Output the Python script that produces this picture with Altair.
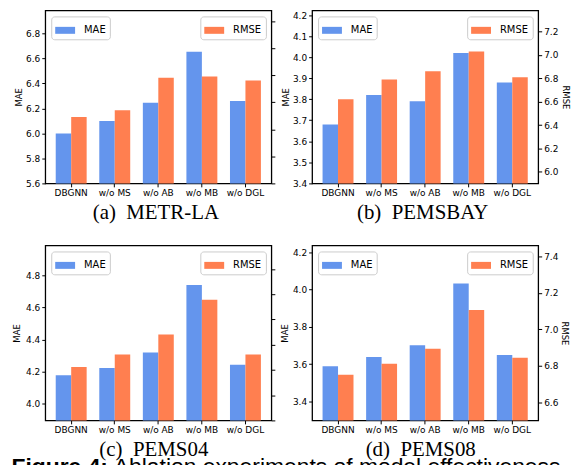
import altair as alt
import pandas as pd

categories = ["DBGNN", "w/o MS", "w/o AB", "w/o MB", "w/o DGL"]
series = ["MAE", "RMSE"]
colors = ["#6495ED", "#FF7F50"]

# (a) METR-LA
a_mae = [6.00, 6.10, 6.245, 6.655, 6.26]
a_rmse = [11.09, 11.14, 11.38, 11.39, 11.36]
a_mae_ticks = [5.6, 5.8, 6.0, 6.2, 6.4, 6.6, 6.8]
a_rmse_ticks = [10.6, 10.8, 11.0, 11.2, 11.4, 11.6, 11.8]
a_mae_domain = [5.6, 6.985]
a_rmse_domain = [10.6, 11.878]

# (b) PEMSBAY
b_mae = [3.68, 3.82, 3.79, 4.02, 3.88]
b_rmse = [6.62, 6.79, 6.86, 7.03, 6.81]
b_mae_ticks = [3.4, 3.5, 3.6, 3.7, 3.8, 3.9, 4.0, 4.1, 4.2]
b_rmse_ticks = [6.0, 6.2, 6.4, 6.6, 6.8, 7.0, 7.2]
b_mae_domain = [3.4, 4.222]
b_rmse_domain = [5.902, 7.38]

# (c) PEMS04
c_mae = [4.178, 4.223, 4.32, 4.74, 4.243]
c_rmse = [7.624, 7.723, 7.88, 8.157, 7.723]
c_mae_ticks = [4.0, 4.2, 4.4, 4.6, 4.8]
c_rmse_ticks = [7.2, 7.4, 7.6, 7.8, 8.0, 8.2, 8.4]
c_mae_domain = [3.897, 4.985]
c_rmse_domain = [7.2, 8.586]

# (d) PEMS08
d_mae = [3.589, 3.639, 3.702, 4.032, 3.65]
d_rmse = [6.751, 6.811, 6.893, 7.106, 6.844]
d_mae_ticks = [3.4, 3.6, 3.8, 4.0, 4.2]
d_rmse_ticks = [6.6, 6.8, 7.0, 7.2, 7.4]
d_mae_domain = [3.299, 4.236]
d_rmse_domain = [6.5, 7.46]

captions = ["(a)\u00a0 METR-LA", "(b)\u00a0 PEMSBAY", "(c)\u00a0 PEMS04", "(d)\u00a0 PEMS08"]
fig_caption = ["Figure 4:", "Ablation experiments of model effectiveness"]

SYMBOL = "M-1,-0.35H1V0.35H-1Z"


def legend(orient):
    return alt.Legend(
        orient=orient, title=None, offset=6, padding=4,
        fillColor="white", strokeColor="#cccccc", cornerRadius=3,
        symbolType=SYMBOL, symbolSize=400, symbolStrokeWidth=0,
        labelFont="DejaVu Sans", labelFontSize=10, labelOffset=9,
        labelColor="black",
    )


def panel(caption, mae, rmse, mae_dom, mae_ticks, rmse_dom, rmse_ticks,
          width, height, left_tp, right_tp, left_title, right_labels,
          right_title, cap_dx=-4, extra=None):
    df_mae = pd.DataFrame({"cat": categories, "series": "MAE", "value": mae})
    df_rmse = pd.DataFrame({"cat": categories, "series": "RMSE", "value": rmse})

    xscale = alt.Scale(paddingInner=0.29, paddingOuter=0.24)
    xaxis = alt.Axis(
        title=caption, labelAngle=0, labelFontSize=9, labelPadding=2,
        tickSize=3.5, tickColor="black", domain=False,
        titleFont="Liberation Serif", titleFontSize=21,
        titleFontWeight="normal", titleY=35, titleX=width / 2 + cap_dx,
        titleBaseline="alphabetic", labelColor="black", titleColor="black",
    )
    xoff = alt.XOffset("series:N", scale=alt.Scale(domain=series, paddingInner=0, paddingOuter=0))

    left_kw = dict(
        orient="left", values=mae_ticks, format=".1f", grid=False, domain=False,
        tickSize=3.5, tickColor="black", labelFontSize=9, labelPadding=2,
        titleFontSize=8.5, titleFontWeight="normal", titlePadding=left_tp,
        labelColor="black", titleColor="black", title=left_title,
    )
    right_kw = dict(
        orient="right", values=rmse_ticks, format=".1f", grid=False, domain=False,
        tickSize=3.5, tickColor="black", labelFontSize=9, labelPadding=2,
        labels=right_labels, titleFontSize=8.5, titleFontWeight="normal",
        titlePadding=right_tp, labelColor="black", titleColor="black",
        title=right_title,
    )

    mae_bars = alt.Chart(df_mae).mark_bar(clip=True).encode(
        x=alt.X("cat:N", sort=categories, scale=xscale, axis=xaxis),
        xOffset=xoff,
        y=alt.Y("value:Q", scale=alt.Scale(domain=mae_dom, zero=False, nice=False),
                axis=alt.Axis(**left_kw)),
        color=alt.Color("series:N", scale=alt.Scale(domain=["MAE"], range=[colors[0]]),
                        legend=legend("top-left")),
    )
    rmse_bars = alt.Chart(df_rmse).mark_bar(clip=True).encode(
        x=alt.X("cat:N", sort=categories, scale=xscale),
        xOffset=xoff,
        y=alt.Y("value:Q", scale=alt.Scale(domain=rmse_dom, zero=False, nice=False),
                axis=alt.Axis(**right_kw)),
        color=alt.Color("series:N", scale=alt.Scale(domain=["RMSE"], range=[colors[1]]),
                        legend=legend("top-right")),
    )
    layers = [mae_bars, rmse_bars]
    if extra:
        layers += extra
    return alt.layer(*layers).resolve_scale(y="independent", color="independent").properties(
        width=width, height=height
    )


fig_df1 = pd.DataFrame({"t": [fig_caption[0]]})
fig_df2 = pd.DataFrame({"t": [fig_caption[1]]})
fig_text = [
    alt.Chart(fig_df1).mark_text(align="left", baseline="alphabetic", font="Liberation Sans",
                                 fontSize=23, fontWeight="bold", color="black").encode(
        text="t:N", x=alt.value(-34), y=alt.value(229.5)),
    alt.Chart(fig_df2).mark_text(align="left", baseline="alphabetic", font="Liberation Sans",
                                 fontSize=23, color="black").encode(
        text="t:N", x=alt.value(69), y=alt.value(229.5)),
]

W = 227.5
H1 = 174
H2 = 176
pa = panel(captions[0], a_mae, a_rmse, a_mae_domain, a_mae_ticks, a_rmse_domain, a_rmse_ticks,
           W, H1, 2, 3, "MAE", False, "", cap_dx=-3)
pb = panel(captions[1], b_mae, b_rmse, b_mae_domain, b_mae_ticks, b_rmse_domain, b_rmse_ticks,
           W, H1, 2, 3, "MAE", True, "RMSE", cap_dx=-3)
pc = panel(captions[2], c_mae, c_rmse, c_mae_domain, c_mae_ticks, c_rmse_domain, c_rmse_ticks,
           W, H2, 4, 3, "MAE", False, "", cap_dx=-5, extra=fig_text)
pd_ = panel(captions[3], d_mae, d_rmse, d_mae_domain, d_mae_ticks, d_rmse_domain, d_rmse_ticks,
            W, H2, 3, 2, "MAE", True, "RMSE", cap_dx=-5)

chart = alt.concat(
    pa, pb, pc, pd_, columns=2, bounds="flush",
    spacing=alt.RowColnumber(row=62.5, column=40.5),
).properties(
    padding={"left": 2.5, "top": 0, "right": 0, "bottom": 0}
).configure_view(stroke="black", strokeWidth=1.3).configure_axis(
    labelFont="DejaVu Sans", titleFont="DejaVu Sans"
)

chart.save("out.html", embed_options={"renderer": "svg", "actions": False})
